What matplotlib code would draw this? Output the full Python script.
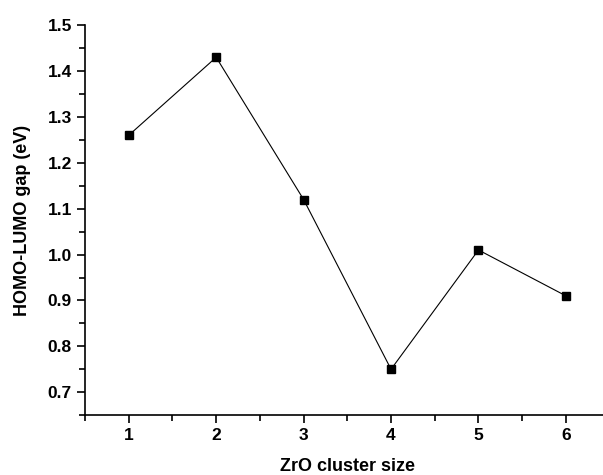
import matplotlib
matplotlib.use("Agg")
import matplotlib.pyplot as plt
from matplotlib.ticker import MultipleLocator

sizes = [1, 2, 3, 4, 5, 6]
gaps = [1.26, 1.43, 1.12, 0.75, 1.01, 0.91]
yticks = [0.7, 0.8, 0.9, 1.0, 1.1, 1.2, 1.3, 1.4, 1.5]

plt.rcParams['font.family'] = ['Liberation Sans', 'DejaVu Sans']
plt.rcParams['font.weight'] = 'bold'

fig = plt.figure(figsize=(6.03, 4.75), dpi=100)
ax = fig.add_axes([0.141, 0.126, 0.87, 0.821])
ax.plot(sizes, gaps, color='black', lw=0.8, marker='s', ms=6.3, mfc='black', mec='black', clip_on=False)
ax.set_xlim(0.5, 6.5)
ax.set_ylim(0.65, 1.5)
ax.set_xticks(sizes)
ax.set_yticks(yticks)
ax.set_yticklabels([f"{v:.1f}" for v in yticks])
ax.xaxis.set_minor_locator(MultipleLocator(0.5))
ax.yaxis.set_minor_locator(MultipleLocator(0.05))
ax.spines['top'].set_visible(False)
ax.spines['right'].set_visible(False)
for s in ('left', 'bottom'):
    ax.spines[s].set_linewidth(1.2)
ax.tick_params(which='major', direction='out', length=6, width=1.2, labelsize=12.5)
ax.tick_params(which='minor', direction='out', length=4, width=1.2)
for lab in ax.get_xticklabels() + ax.get_yticklabels():
    lab.set_fontweight('bold')
ax.set_xlabel('ZrO cluster size', fontsize=13, fontweight='bold', labelpad=10.5)
ax.set_ylabel('HOMO-LUMO gap (eV)', fontsize=13, fontweight='bold', labelpad=12)
fig.savefig('out.png', dpi=100)
